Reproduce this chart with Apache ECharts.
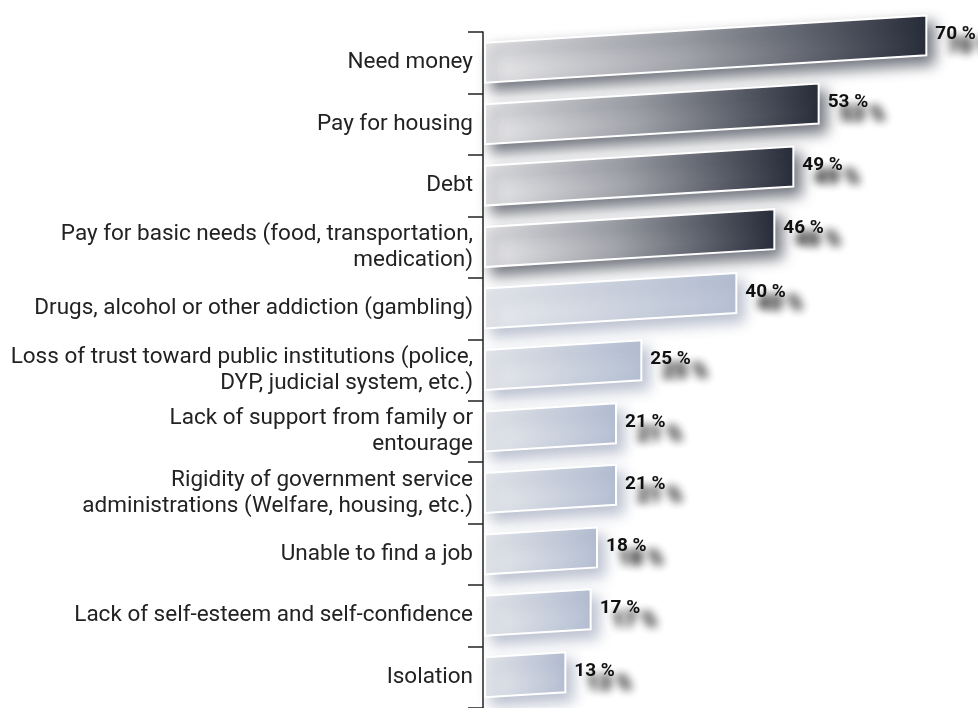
<!DOCTYPE html>
<html>
<head>
<meta charset="utf-8">
<title>Reasons</title>
<script src="https://cdn.jsdelivr.net/npm/echarts@6/dist/echarts.min.js"></script>
<style>
  html, body { margin: 0; padding: 0; background: #ffffff; }
  #chart { width: 978px; height: 708px; }
</style>
</head>
<body>
<div id="chart"></div>
<script>
// Reasons, ordered from most to least cited
const categories = [
  'Need money',
  'Pay for housing',
  'Debt',
  'Pay for basic needs (food, transportation,\nmedication)',
  'Drugs, alcohol or other addiction (gambling)',
  'Loss of trust toward public institutions (police,\nDYP, judicial system, etc.)',
  'Lack of support from family or\nentourage',
  'Rigidity of government service\nadministrations (Welfare, housing, etc.)',
  'Unable to find a job',
  'Lack of self-esteem and self-confidence',
  'Isolation'
];
const values = [70, 53, 49, 46, 40, 25, 21, 21, 18, 17, 13];
// the four leading reasons are drawn in the dark palette
const leading = [true, true, true, true, false, false, false, false, false, false, false];

const chart = echarts.init(document.getElementById('chart'));

const darkFill = {
  type: 'linear', x: 0, y: 0, x2: 1, y2: 0,
  colorStops: [
    { offset: 0, color: '#e8e8ea' },
    { offset: 0.45, color: '#a2a4ab' },
    { offset: 1, color: '#282d3a' }
  ]
};
const lightFill = {
  type: 'linear', x: 0, y: 0, x2: 1, y2: 0,
  colorStops: [
    { offset: 0, color: '#e6e8ec' },
    { offset: 1, color: '#b6c0d3' }
  ]
};

// bars lean slightly upward toward their right end
const SLANT = 0.062;
// the label smudge is drawn from copies parked off-canvas, so only their blurred shadows land
const PARK = 4000;

function smudge(label, x, y, blur) {
  return {
    type: 'text',
    style: {
      text: label,
      x: x - PARK,
      y: y,
      verticalAlign: 'middle',
      align: 'left',
      font: 'bold 21px Roboto',
      fill: '#000000',
      textShadowColor: 'rgba(30,30,30,0.8)',
      textShadowBlur: blur,
      textShadowOffsetX: PARK,
      textShadowOffsetY: 0
    },
    z2: 0
  };
}

function renderBar(params, api) {
  const idx = api.value(0);
  const val = api.value(1);
  const start = api.coord([0, idx]);
  const end = api.coord([val, idx]);
  const h = api.size([0, 1])[1] * 0.65;
  const x0 = start[0] + 2;
  const x1 = end[0];
  const yc = start[1];
  const rise = SLANT * (x1 - x0);
  const dark = leading[idx];
  const label = val + ' %';
  const lx = x1 + 9;
  const ly = yc - rise - 1;
  return {
    type: 'group',
    children: [
      {
        type: 'polygon',
        shape: {
          points: [
            [x0, yc - h / 2],
            [x1, yc - h / 2 - rise],
            [x1, yc + h / 2 - rise],
            [x0, yc + h / 2]
          ]
        },
        style: {
          fill: dark ? darkFill : lightFill,
          stroke: '#ffffff',
          lineWidth: 2,
          shadowBlur: 14,
          shadowOffsetX: 7,
          shadowOffsetY: 8,
          shadowColor: dark ? 'rgba(25,30,45,0.6)' : 'rgba(90,105,140,0.4)'
        }
      },
      smudge(label, lx + 13, ly + 13, 10),
      smudge(label, lx + 12, ly + 12, 8),
      {
        type: 'text',
        style: {
          text: label,
          x: lx,
          y: ly,
          verticalAlign: 'middle',
          align: 'left',
          font: 'bold 19px Roboto',
          fill: '#111111'
        },
        z2: 1
      }
    ]
  };
}

chart.setOption({
  backgroundColor: '#ffffff',
  textStyle: { fontFamily: 'Roboto' },
  animation: false,
  grid: { left: 483, right: 20, top: 32, bottom: 0, containLabel: false },
  xAxis: {
    type: 'value',
    min: 0,
    max: 75,
    show: false
  },
  yAxis: {
    type: 'category',
    data: categories,
    inverse: true,
    axisLine: { show: true, lineStyle: { color: '#222222', width: 1.5 } },
    axisTick: { show: true, length: 15, lineStyle: { color: '#222222', width: 1.5 } },
    axisLabel: {
      color: '#222222',
      fontSize: 22.5,
      lineHeight: 26,
      margin: 10,
      align: 'right'
    },
    splitLine: { show: false }
  },
  series: [{
    type: 'custom',
    renderItem: renderBar,
    encode: { x: 1, y: 0 },
    data: values.map((v, i) => [i, v]),
    clip: false
  }]
});
</script>
</body>
</html>
